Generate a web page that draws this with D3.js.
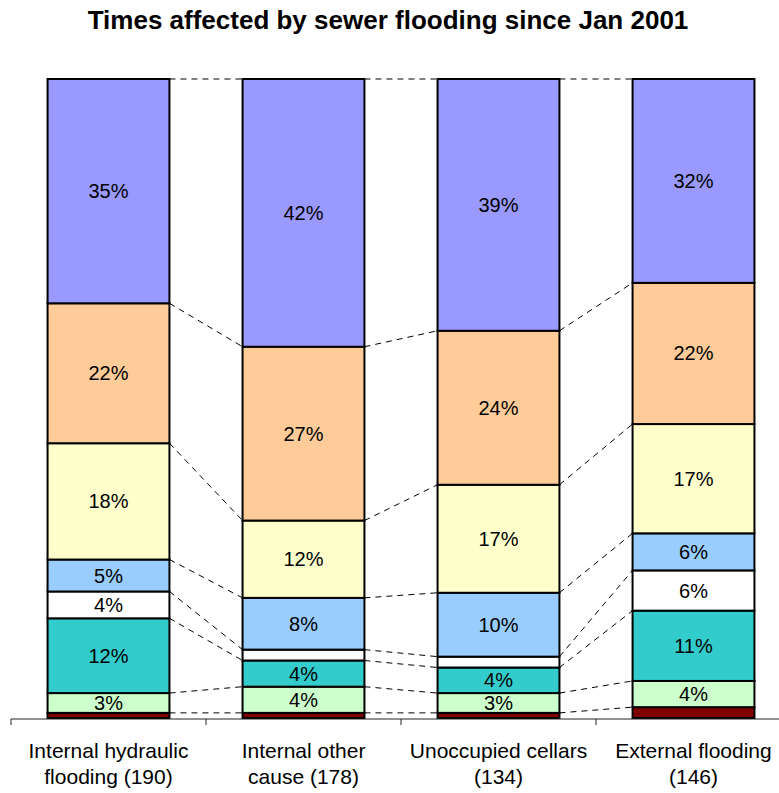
<!DOCTYPE html>
<html><head><meta charset="utf-8">
<script src="https://cdn.jsdelivr.net/npm/d3@7"></script>
<style>body{margin:0;background:#fff;} svg{display:block;font-family:Arial,"Liberation Sans",sans-serif;}</style>
</head><body>
<script>
const categories = [["Internal hydraulic","flooding (190)"],["Internal other","cause (178)"],["Unoccupied cellars","(134)"],["External flooding","(146)"]];
const seriesNames = ["s1","s2","s3","s4","s5","s6","s7","s8"];
const seriesColors = ["#800000","#CCFFCC","#33CCCC","#FFFFFF","#99CCFF","#FFFFCC","#FFCC99","#9999FF"];
// percentages per category, bottom to top
const s1 = [0.8, 0.8, 0.8, 1.7];
const s2 = [3.1, 4.1, 3.1, 4.1];
const s3 = [11.7, 4.1, 4.0, 11.0];
const s4 = [4.2, 1.7, 1.7, 6.3];
const s5 = [5.0, 8.1, 10.0, 5.8];
const s6 = [18.2, 12.1, 16.9, 17.1];
const s7 = [21.9, 27.2, 24.1, 22.1];
const s8 = [35.1, 41.9, 39.4, 31.9];
const seriesValues = [s1,s2,s3,s4,s5,s6,s7,s8];
const title = "Times affected by sewer flooding since Jan 2001";

const W = 779, H = 793;
const svg = d3.select("body").append("svg").attr("width", W).attr("height", H);
const x0 = 11, x1 = 11 + 4*195, yTop = 79, yBot = 718;
const x = d3.scaleBand().domain(d3.range(4)).range([x0, x1]).paddingInner(0.375).paddingOuter(0.1875);
const y = d3.scaleLinear().domain([0, 100]).range([yBot, yTop]);

const data = d3.range(4).map(i => { const o = {i}; seriesNames.forEach((s,k)=>o[s]=seriesValues[k][i]); return o; });
const stack = d3.stack().keys(seriesNames)(data);

// series lines
const lines = svg.append("g");
stack.forEach(layer => {
  for (let i = 0; i < 3; i++) {
    lines.append("line")
      .attr("x1", x(i) + x.bandwidth()).attr("y1", y(layer[i][1]))
      .attr("x2", x(i+1)).attr("y2", y(layer[i+1][1]))
      .attr("stroke", "#000").attr("stroke-width", 1).attr("stroke-dasharray", "6,5");
  }
});

// bars
stack.forEach((layer, k) => {
  svg.append("g").selectAll("rect").data(layer).join("rect")
    .attr("x", (d,i) => x(i)).attr("width", x.bandwidth())
    .attr("y", d => y(d[1])).attr("height", d => y(d[0]) - y(d[1]))
    .attr("fill", seriesColors[k]).attr("stroke", "#000").attr("stroke-width", 2);
});

// labels
stack.forEach((layer, k) => {
  svg.append("g").selectAll("text").data(layer.filter(d => d[1]-d[0] >= 2.5)).join("text")
    .attr("x", d => x(d.data.i) + x.bandwidth()/2)
    .attr("y", d => (y(d[0]) + y(d[1]))/2 + 7)
    .attr("text-anchor", "middle").attr("font-size", 20).attr("fill", "#000")
    .text(d => Math.round(d[1]-d[0]) + "%");
});

// axis
const ax = svg.append("g");
ax.append("line").attr("x1", x0).attr("x2", x1).attr("y1", yBot+1).attr("y2", yBot+1).attr("stroke", "#222").attr("stroke-width", 1);
d3.range(5).forEach(i => {
  const tx = x0 + i*195;
  ax.append("line").attr("x1", tx).attr("x2", tx).attr("y1", yBot+1).attr("y2", yBot+7).attr("stroke", "#222");
});
categories.forEach((c, i) => {
  const t = svg.append("text").attr("text-anchor", "middle").attr("font-size", 21).attr("fill", "#000");
  c.forEach((ln, j) => t.append("tspan").attr("x", x(i) + x.bandwidth()/2).attr("y", 758 + j*26).text(ln));
});

svg.append("text").attr("x", 388).attr("y", 29).attr("text-anchor", "middle")
  .attr("font-size", 26).attr("font-weight", "bold").text(title);
</script>
</body></html>
